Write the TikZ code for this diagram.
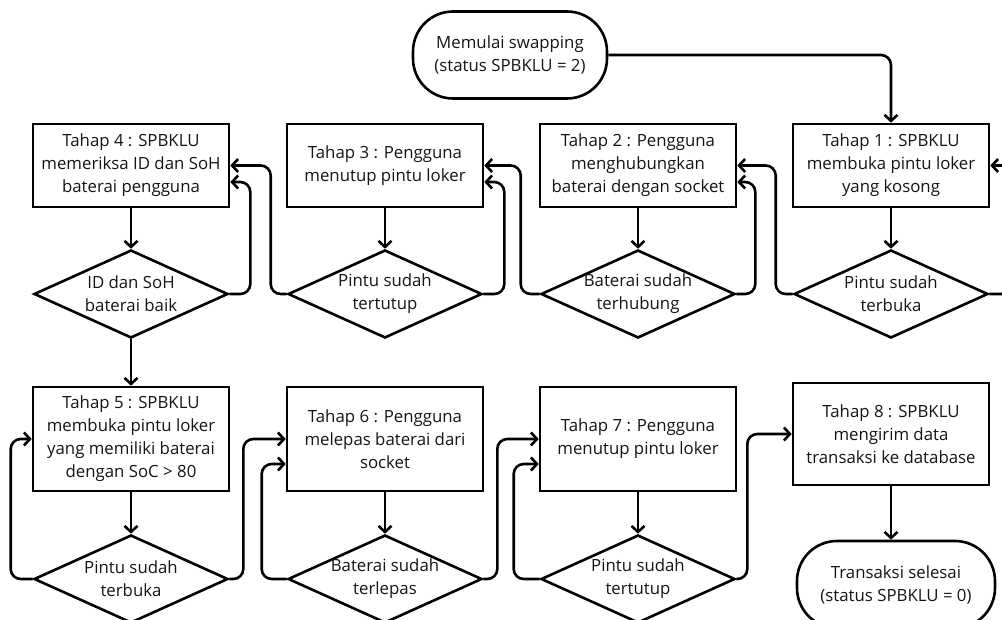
\documentclass[tikz,border=0pt]{standalone}
\usepackage{fontspec}
\setmainfont{Open Sans}
\usetikzlibrary{arrows.meta,shapes.geometric}

\begin{document}
\begin{tikzpicture}[
    x=1pt, y=-1pt,
    every node/.style={font=\fontsize{16.8}{23}\selectfont, text=black!92},
    box/.style={draw, line width=2.6pt, minimum width=196pt, minimum height=83pt, inner sep=2pt, align=center},
    dec/.style={draw, diamond, aspect=2.2, line width=2.6pt, minimum width=194pt, minimum height=88pt, inner sep=-3pt, align=center},
    term/.style={draw, rounded corners=40pt, line width=2.6pt, minimum width=194pt, minimum height=87pt, align=center},
    arr/.style={-{Straight Barb[length=6pt,width=13pt]}, line width=2.6pt, rounded corners=10pt}
]
\useasboundingbox (0,0) rectangle (1002,620);

\node[term] (start) at (510,55) {Memulai swapping\\(status SPBKLU = 2)};

% top row, right to left
\node[box] (s1) at (891,165.5) {Tahap 1 : SPBKLU\\membuka pintu loker\\yang kosong};
\node[box] (s2) at (638,165.5) {Tahap 2 : Pengguna\\menghubungkan\\baterai dengan socket};
\node[box] (s3) at (385,165.5) {Tahap 3 : Pengguna\\menutup pintu loker};
\node[box] (s4) at (131,165.5) {Tahap 4 : SPBKLU\\memeriksa ID dan SoH\\baterai pengguna};
\node[dec] (c1) at (891,294) {Pintu sudah\\terbuka};
\node[dec] (c2) at (638,294) {Baterai sudah\\terhubung};
\node[dec] (c3) at (385,294) {Pintu sudah\\tertutup};
\node[dec] (c4) at (131,294) {ID dan SoH\\baterai baik};

% bottom row, left to right
\node[box, minimum height=104pt] (s5) at (131,439) {Tahap 5 : SPBKLU\\membuka pintu loker\\yang memiliki baterai\\dengan SoC > 80};
\node[box, minimum height=104pt] (s6) at (385,439) {Tahap 6 : Pengguna\\melepas baterai dari\\socket};
\node[box, minimum height=104pt] (s7) at (638,439) {Tahap 7 : Pengguna\\menutup pintu loker};
\node[box, minimum height=102pt] (s8) at (891,434) {Tahap 8 : SPBKLU\\mengirim data\\transaksi ke database};
\node[dec] (c5) at (131,579) {Pintu sudah\\terbuka};
\node[dec] (c6) at (385,579) {Baterai sudah\\terlepas};
\node[dec] (c7) at (638,579) {Pintu sudah\\tertutup};
\node[term, minimum width=198pt] (selesai) at (896,584.5) {Transaksi selesai\\(status SPBKLU = 0)};

\draw[arr] (start) -| (s1);
\foreach \i in {1,...,7}
    \draw[arr] (s\i) -- (c\i);
\draw[arr] (s8) -- (s8 |- selesai.north);

% yes: on to the next step
\draw[arr] (c1.west) -- ++(-17,0) |- (s2.east);
\draw[arr] (c2.west) -- ++(-19,0) |- (s3.east);
\draw[arr] (c3.west) -- ++(-16,0) |- (s4.east);
\draw[arr] (c4) -- (s5);
\draw[arr] (c5.east) -- ++(14,0) |- (s6.west);
\draw[arr] (c6.east) -- ++(14,0) |- (s7.west);
\draw[arr] (c7.east) -- ++(11,0) |- (s8.west);

% no: back to the same step
\draw[arr] (c1.east) -- ++(30,0) |- (s1.east);
\draw[arr] (c2.east) -- ++(19,0) |- ([yshift=-16.5pt]s2.east);
\draw[arr] (c3.east) -- ++(21,0) |- ([yshift=-16.5pt]s3.east);
\draw[arr] (c4.east) -- ++(21,0) |- ([yshift=-16.5pt]s4.east);
\draw[arr] (c5.west) -- ++(-22,0) |- (s5.west);
\draw[arr] (c6.west) -- ++(-25,0) |- ([yshift=-25pt]s6.west);
\draw[arr] (c7.west) -- ++(-26,0) |- ([yshift=-25pt]s7.west);
\end{tikzpicture}
\end{document}
